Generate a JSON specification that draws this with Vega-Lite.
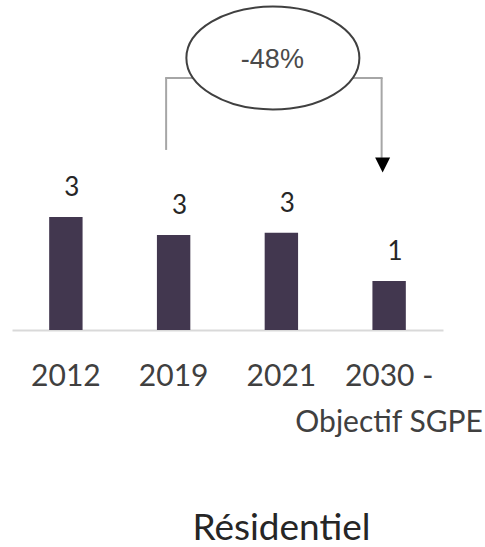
{
  "$schema": "https://vega.github.io/schema/vega-lite/v6.json",
  "width": 431,
  "height": 330,
  "autosize": {"type": "none"},
  "padding": {"left": 12, "top": 0, "right": 42, "bottom": 217},
  "background": "white",
  "config": {"view": {"stroke": null}, "font": "Lato"},
  "title": {
    "text": "Résidentiel",
    "orient": "bottom",
    "anchor": "middle",
    "dx": 54,
    "offset": 74,
    "fontSize": 37,
    "fontWeight": "normal",
    "color": "#262626",
    "font": "Lato"
  },
  "datasets": {
    "bars": [
      {"annee": "2012", "valeur": 3.0},
      {"annee": "2019", "valeur": 2.52},
      {"annee": "2021", "valeur": 2.58},
      {"annee": "2030 - Objectif SGPE", "valeur": 1.3}
    ],
    "vert": [
      {"annee": "2019", "haut": 6.69, "bas": 4.78},
      {"annee": "2030 - Objectif SGPE", "haut": 6.69, "bas": 4.57}
    ],
    "horiz": [
      {"de": "2019", "a": "2030 - Objectif SGPE", "niveau": 6.69}
    ],
    "bulle": [
      {"annee": "2021", "niveau": 7.22, "texte": "-48%"}
    ],
    "fleche": [
      {"annee": "2030 - Objectif SGPE", "niveau": 4.38}
    ]
  },
  "layer": [
    {
      "data": {"name": "bars"},
      "mark": {"type": "bar", "color": "#42374F", "width": {"band": 0.31}},
      "encoding": {
        "x": {
          "field": "annee",
          "type": "nominal",
          "sort": null,
          "scale": {"paddingInner": 0, "paddingOuter": 0},
          "axis": {
            "title": null,
            "labelAngle": 0,
            "labelFontSize": 30,
            "labelColor": "#404040",
            "labelFont": "Lato",
            "labelPadding": 31,
            "labelLineHeight": 46,
            "labelLimit": 0,
            "labelOverlap": false,
            "labelExpr": "datum.value == '2030 - Objectif SGPE' ? ['2030 -', 'Objectif SGPE'] : datum.label",
            "ticks": false,
            "domainColor": "#d9d9d9",
            "domainWidth": 2,
            "grid": false
          }
        },
        "y": {
          "field": "valeur",
          "type": "quantitative",
          "scale": {"domain": [0, 8.76], "nice": false},
          "axis": null
        }
      }
    },
    {
      "data": {"name": "bars"},
      "mark": {"type": "text", "fontSize": 26, "color": "#262626", "baseline": "alphabetic", "dy": -21, "dx": 6, "font": "Lato"},
      "encoding": {
        "x": {"field": "annee", "type": "nominal", "sort": null},
        "y": {"field": "valeur", "type": "quantitative"},
        "text": {"field": "valeur", "type": "quantitative", "format": ".0f"}
      }
    },
    {
      "data": {"name": "vert"},
      "mark": {"type": "rule", "color": "#a6a6a6", "strokeWidth": 2, "xOffset": -7.5},
      "encoding": {
        "x": {"field": "annee", "type": "nominal", "sort": null},
        "y": {"field": "haut", "type": "quantitative"},
        "y2": {"field": "bas"}
      }
    },
    {
      "data": {"name": "horiz"},
      "mark": {"type": "rule", "color": "#a6a6a6", "strokeWidth": 2, "xOffset": -8.5, "x2Offset": -6.5},
      "encoding": {
        "x": {"field": "de", "type": "nominal", "sort": null},
        "x2": {"field": "a"},
        "y": {"field": "niveau", "type": "quantitative"}
      }
    },
    {
      "data": {"name": "fleche"},
      "mark": {"type": "point", "shape": "M -1 -1 L 1 -1 L 0 1 Z", "size": 225, "filled": true, "color": "#000000", "opacity": 1, "xOffset": -6.5},
      "encoding": {
        "x": {"field": "annee", "type": "nominal", "sort": null},
        "y": {"field": "niveau", "type": "quantitative"}
      }
    },
    {
      "data": {"name": "bulle"},
      "mark": {"type": "point", "shape": "M -1 0 A 1 0.595 0 1 1 1 0 A 1 0.595 0 1 1 -1 0 Z", "size": 29929, "filled": false, "fill": "white", "fillOpacity": 1, "stroke": "#404040", "strokeWidth": 2, "opacity": 1, "xOffset": -8.5},
      "encoding": {
        "x": {"field": "annee", "type": "nominal", "sort": null},
        "y": {"field": "niveau", "type": "quantitative"}
      }
    },
    {
      "data": {"name": "bulle"},
      "mark": {"type": "text", "fontSize": 27, "color": "#4a4a4a", "font": "Liberation Sans", "baseline": "middle", "dy": 2, "xOffset": -9},
      "encoding": {
        "x": {"field": "annee", "type": "nominal", "sort": null},
        "y": {"field": "niveau", "type": "quantitative"},
        "text": {"field": "texte", "type": "nominal"}
      }
    }
  ]
}
